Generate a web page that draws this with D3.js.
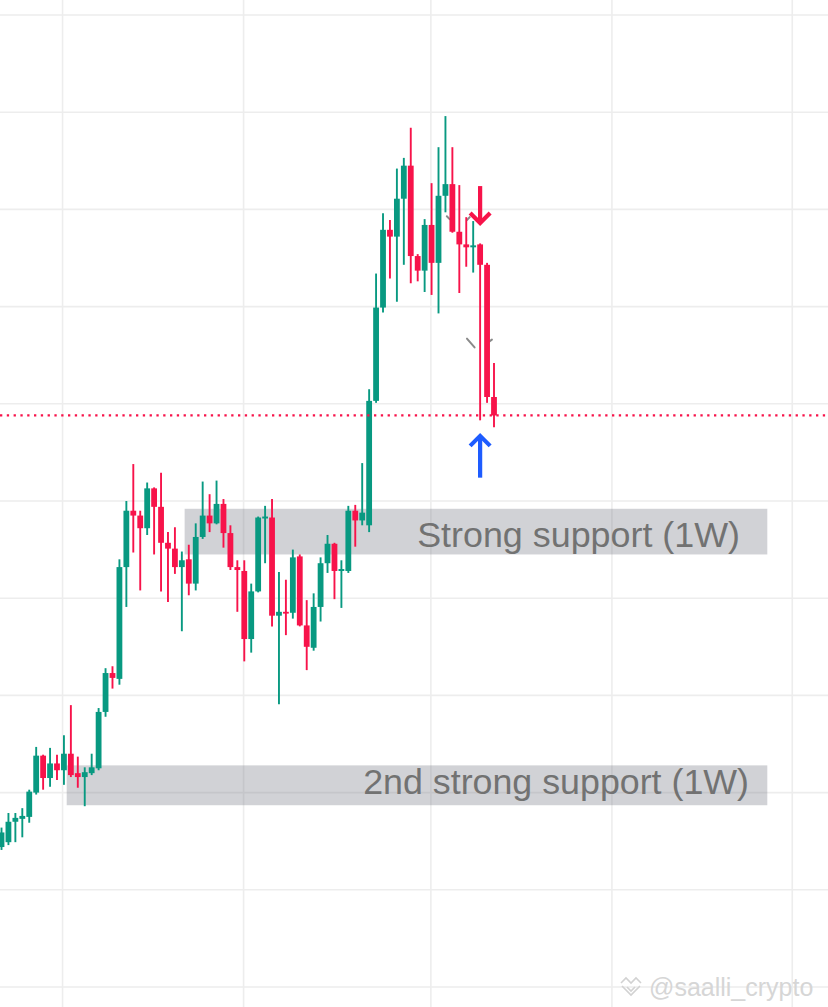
<!DOCTYPE html>
<html>
<head>
<meta charset="utf-8">
<script src="https://cdn.jsdelivr.net/npm/d3@7"></script>
<style>
  html, body { margin: 0; padding: 0; background: #ffffff; overflow: hidden; }
</style>
</head>
<body>
<svg id="svgChart"></svg>
<script>
// chart size (same as the screenshot)
const width = 828;
const height = 1007;

// candles, one entry per bar (left to right)
const opens = [34.4, 34.9, 37.0, 37.3, 37.5, 40.0, 43.8, 41.5, 43.0, 42.3,
  44.0, 42.0, 41.6, 42.0, 42.5, 48.3, 52.3, 51.7, 63.2, 69.0,
  68.5, 67.2, 71.3, 69.4, 65.7, 65.1, 63.2, 64.0, 61.5, 66.3,
  68.5, 67.7, 69.7, 66.7, 63.2, 62.8, 55.8, 60.7, 68.2, 68.3,
  58.2, 58.6, 58.5, 64.3, 57.2, 54.9, 59.1, 63.6, 65.6, 62.8,
  62.8, 69.0, 68.0, 67.5, 80.3, 89.9, 97.9, 97.2, 101.1, 104.5,
  95.2, 93.7, 98.4, 94.5, 101.4, 102.6, 97.7, 96.4, 96.1, 96.4,
  94.3, 80.7];
const highs = [36.4, 37.9, 37.9, 38.4, 40.3, 44.7, 43.9, 44.6, 43.9, 45.9,
  49.0, 43.7, 42.6, 44.0, 48.7, 52.8, 53.0, 64.0, 70.0, 73.8,
  69.0, 71.9, 71.4, 72.9, 66.8, 67.3, 64.8, 65.5, 67.7, 72.0,
  70.7, 72.1, 70.2, 67.5, 63.9, 63.9, 61.5, 68.4, 69.5, 70.2,
  62.7, 61.9, 65.0, 64.5, 59.8, 60.5, 64.2, 66.5, 65.7, 63.9,
  69.5, 69.6, 73.9, 81.5, 93.4, 99.6, 98.9, 104.2, 105.3, 108.4,
  95.4, 99.0, 102.7, 106.4, 109.6, 106.4, 102.5, 99.2, 98.8, 96.5,
  94.5, 84.2];
const lows = [34.1, 34.6, 34.9, 35.4, 36.9, 39.8, 40.3, 40.6, 41.3, 40.8,
  41.6, 40.5, 38.6, 41.8, 42.3, 47.8, 50.7, 51.1, 59.1, 64.7,
  60.8, 66.5, 64.5, 60.7, 59.6, 62.5, 56.6, 60.3, 60.8, 66.1,
  66.8, 67.6, 65.2, 62.9, 58.6, 53.5, 54.4, 60.6, 63.6, 57.1,
  49.1, 56.2, 57.9, 57.1, 52.6, 54.6, 57.6, 62.6, 59.9, 59.0,
  62.6, 65.3, 67.5, 66.8, 80.1, 89.4, 92.9, 90.5, 94.3, 92.4,
  92.6, 91.5, 91.2, 89.3, 99.7, 97.6, 91.4, 94.1, 93.5, 78.3,
  80.1, 77.6];
const closes = [35.9, 37.0, 37.4, 37.6, 40.1, 43.8, 41.5, 43.0, 42.3, 44.0,
  41.8, 41.6, 42.1, 42.6, 48.3, 52.3, 51.8, 63.2, 69.0, 68.5,
  67.2, 71.3, 69.4, 65.7, 65.1, 63.2, 63.9, 61.5, 66.3, 68.5,
  67.7, 69.7, 66.7, 63.2, 62.9, 55.8, 60.7, 68.3, 68.4, 58.2,
  58.6, 58.5, 64.2, 57.2, 55.0, 59.1, 63.6, 65.6, 62.8, 63.0,
  69.0, 68.0, 68.8, 80.3, 89.9, 97.9, 97.2, 101.1, 104.5, 95.2,
  93.7, 98.4, 94.5, 101.4, 102.6, 97.7, 96.4, 96.1, 96.3, 94.3,
  80.7, 78.8];

// grid (price levels and bar positions, no labels are shown)
const gridPrices = [20, 30, 40, 50, 60, 70, 80, 90, 100, 110, 120];
const gridBars = [8.8, 34.9, 61.9, 88.0, 114.0];

// support zones (bar range and price range)
const zoneLabels = ["Strong support (1W)", "2nd strong support (1W)"];
const zoneFrom = [26.4, 9.4];
const zoneTo = [110.4, 110.4];
const zoneTop = [69.2, 42.8];
const zoneBottom = [64.5, 38.7];

// arrows drawn on the chart (bar, price of tail, price of tip)
const arrowBars = [69, 69];
const arrowTails = [102.4, 72.4];
const arrowTips = [98.6, 76.7];

// small leftovers of a grey drawing (bar, price) -> (bar, price)
const marks = [[64.2, 99.3, 64.6, 99.0], [67.1, 98.9, 67.5, 99.2],
  [67.1, 86.7, 68.2, 85.8], [70.1, 86.3, 70.7, 86.6]];

const upColor = "#089981";
const downColor = "#f7134a";

var svg;
var x;
var y;

/**
 * Entry point
 */
function drawChart() {

  svg = d3.select("#svgChart")
    .attr("width", width)
    .attr("height", height)
    .attr("viewBox", [0, 0, width, height]);

  // bar index -> pixel, price -> pixel
  x = d3.scaleLinear().domain([0, opens.length - 1]).range([1.5, 494]);
  y = d3.scaleLinear().domain([20, 120]).range([987, 15]);

  drawGrid();
  drawZones();
  drawMarks();
  drawCandles();
  drawPriceLine();
  drawArrows();
  drawWatermark();
}

/**
 * light grid lines
 */
function drawGrid() {
  const g = svg.append("g")
    .attr("stroke", "#ededed")
    .attr("stroke-width", 1.6);

  g.selectAll("line.h").data(gridPrices).join("line")
    .attr("class", "h")
    .attr("x1", 0).attr("x2", width)
    .attr("y1", d => y(d)).attr("y2", d => y(d));

  g.selectAll("line.v").data(gridBars).join("line")
    .attr("class", "v")
    .attr("x1", d => x(d)).attr("x2", d => x(d))
    .attr("y1", 0).attr("y2", height);
}

/**
 * grey boxes with their labels
 */
function drawZones() {
  const labelRight = [740, 749];     // right end of each label
  const labelBase = [547, 794];      // baseline of each label
  const labelWidth = [323, 386];     // width of the label in the picture

  const g = svg.append("g");

  zoneLabels.forEach((label, i) => {
    g.append("rect")
      .attr("x", x(zoneFrom[i]))
      .attr("y", y(zoneTop[i]))
      .attr("width", x(zoneTo[i]) - x(zoneFrom[i]))
      .attr("height", y(zoneBottom[i]) - y(zoneTop[i]))
      .attr("fill", "rgba(120, 123, 134, 0.34)");

    const t = g.append("text")
      .attr("x", labelRight[i])
      .attr("y", labelBase[i])
      .attr("text-anchor", "end")
      .attr("font-family", "'Liberation Sans', Arial, sans-serif")
      .attr("font-size", 34)
      .attr("fill", "#727272")
      .text(label);

    // fit the font size to the width seen in the picture
    const len = t.node().getComputedTextLength();
    if (len > 0) t.attr("font-size", 34 * labelWidth[i] / len);
  });
}

/**
 * short grey strokes near the last bars
 */
function drawMarks() {
  svg.append("g")
    .attr("stroke", "#8a8a8a")
    .attr("stroke-width", 2)
    .attr("stroke-linecap", "round")
    .selectAll("line").data(marks).join("line")
    .attr("x1", d => x(d[0])).attr("y1", d => y(d[1]))
    .attr("x2", d => x(d[2])).attr("y2", d => y(d[3]));
}

/**
 * the candles: wick + body
 */
function drawCandles() {
  const bodyWidth = 5.8;
  const idx = d3.range(opens.length);
  const color = i => closes[i] >= opens[i] ? upColor : downColor;

  const g = svg.append("g");

  const candle = g.selectAll("g").data(idx).join("g")
    .attr("fill", color)
    .attr("stroke", color);

  candle.append("line")
    .attr("x1", i => x(i)).attr("x2", i => x(i))
    .attr("y1", i => y(highs[i])).attr("y2", i => y(lows[i]))
    .attr("stroke-width", 1.9);

  candle.append("rect")
    .attr("x", i => x(i) - bodyWidth / 2)
    .attr("width", bodyWidth)
    .attr("y", i => y(Math.max(opens[i], closes[i])))
    .attr("height", i => Math.max(1.8, Math.abs(y(opens[i]) - y(closes[i]))))
    .attr("stroke", "none");
}

/**
 * dotted line at the last close
 */
function drawPriceLine() {
  const last = closes[closes.length - 1];
  svg.append("line")
    .attr("x1", 0).attr("x2", width)
    .attr("y1", y(last)).attr("y2", y(last))
    .attr("stroke", downColor)
    .attr("stroke-width", 2.3)
    .attr("stroke-dasharray", "2.3,4.5");
}

/**
 * red arrow (down) and blue arrow (up)
 */
function drawArrows() {
  const colors = [downColor, "#1e5cff"];
  const head = 10;

  arrowBars.forEach((bar, i) => {
    const ax = x(bar);
    const tail = y(arrowTails[i]);
    const tip = y(arrowTips[i]);
    const dir = tip > tail ? -1 : 1;   // the head opens back toward the tail

    const g = svg.append("g")
      .attr("stroke", colors[i])
      .attr("stroke-width", 4.2)
      .attr("fill", "none");

    g.append("line")
      .attr("x1", ax).attr("x2", ax)
      .attr("y1", tail).attr("y2", tip + dir * 1.5);

    g.append("path")
      .attr("stroke-linejoin", "miter")
      .attr("d", d3.line()([[ax - head, tip + dir * head], [ax, tip], [ax + head, tip + dir * head]]));
  });
}

/**
 * author tag bottom right
 */
function drawWatermark() {
  const g = svg.append("g")
    .attr("stroke", "#d2d2d2")
    .attr("stroke-width", 1.6)
    .attr("fill", "none");

  // small logo made of chevrons
  const lx = 631, ly = 987;
  g.append("path").attr("d", d3.line()([[lx - 10, ly - 4], [lx - 5, ly - 9], [lx, ly - 4], [lx + 5, ly - 9], [lx + 10, ly - 4]]));
  g.append("path").attr("d", d3.line()([[lx - 9, ly - 1], [lx, ly + 8], [lx + 9, ly - 1]]));
  g.append("path").attr("d", d3.line()([[lx - 4, ly], [lx, ly + 4], [lx + 4, ly]]));

  svg.append("text")
    .attr("x", 649)
    .attr("y", 996)
    .attr("font-family", "'Liberation Sans', Arial, sans-serif")
    .attr("font-size", 25)
    .attr("fill", "#d6d6d6")
    .text("@saalli_crypto");
}

drawChart();
</script>
</body>
</html>
